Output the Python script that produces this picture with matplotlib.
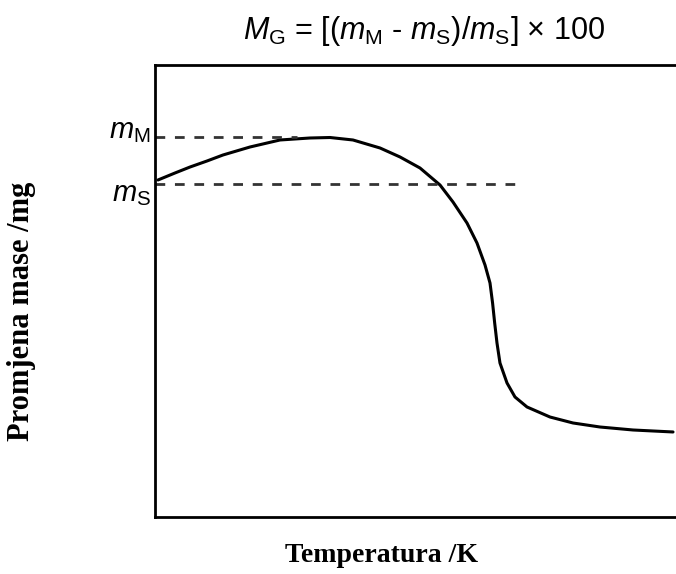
import matplotlib
matplotlib.use("Agg")
import matplotlib.pyplot as plt

plt.rcParams['mathtext.fontset'] = 'custom'
plt.rcParams['mathtext.rm'] = 'Liberation Sans'
plt.rcParams['mathtext.it'] = 'Liberation Sans:italic'

# (arbitrary units: temperature 0-100, mass 0-100)
temperature = [0.57, 3.81, 6.67, 9.90, 12.95, 18.10, 23.81, 29.52, 33.33, 37.71,
               42.86, 46.67, 50.48, 54.29, 56.76, 59.43, 61.33, 62.86, 63.81, 64.30,
               64.70, 65.14, 65.71, 67.05, 68.57, 70.86, 75.24, 79.62, 84.76, 91.05, 98.67]
mass = [74.56, 76.11, 77.43, 78.76, 80.09, 81.86, 83.41, 83.85, 83.96, 83.41,
        81.64, 79.65, 77.21, 73.45, 69.69, 65.04, 60.62, 55.75, 51.77, 47.35,
        42.92, 38.50, 34.07, 29.65, 26.55, 24.34, 22.12, 20.80, 19.91, 19.25, 18.81]
m_M = 84.0
m_S = 73.7
m_M_dash_end = 27.0
m_S_dash_end = 68.6

fig = plt.figure(figsize=(6.76, 5.74), dpi=100)
ax = fig.add_axes([155/676, 57/574, 525/676, 452/574])
ax.set_xlim(0, 100)
ax.set_ylim(0, 100)
ax.set_xticks([])
ax.set_yticks([])
for s in ['left', 'bottom', 'top']:
    ax.spines[s].set_linewidth(2.0)
ax.spines['right'].set_visible(False)

ax.plot(temperature, mass, color='black', lw=2.2, solid_capstyle='round',
        solid_joinstyle='round')
ax.plot([0, m_M_dash_end], [m_M, m_M], color='#333333', lw=2, ls=(0, (3.5, 3.5)))
ax.plot([0, m_S_dash_end], [m_S, m_S], color='#333333', lw=2, ls=(0, (3.5, 3.5)))

ax.text(-0.8, 82.4, r'$m_{\mathrm{M}}$', ha='right', va='bottom', fontsize=21)
ax.text(-0.8, 74.6, r'$m_{\mathrm{S}}$', ha='right', va='top', fontsize=21)

fig.text(424/676, 1 - 31/574,
         r'$M_{\mathrm{G}}$ = [($m_{\mathrm{M}}$ - $m_{\mathrm{S}}$)/$m_{\mathrm{S}}$] $\times$ 100',
         ha='center', va='center', fontsize=22, family='Liberation Sans')

fig.text(22/676, 1 - 311/574, 'Promjena mase /mg', rotation=90, ha='center', va='center',
         fontsize=22, family='Liberation Serif', fontweight='bold')
fig.text(381/676, 1 - 556/574, 'Temperatura /K', ha='center', va='center',
         fontsize=20, family='Liberation Serif', fontweight='bold')

fig.savefig('out.png', dpi=100)
